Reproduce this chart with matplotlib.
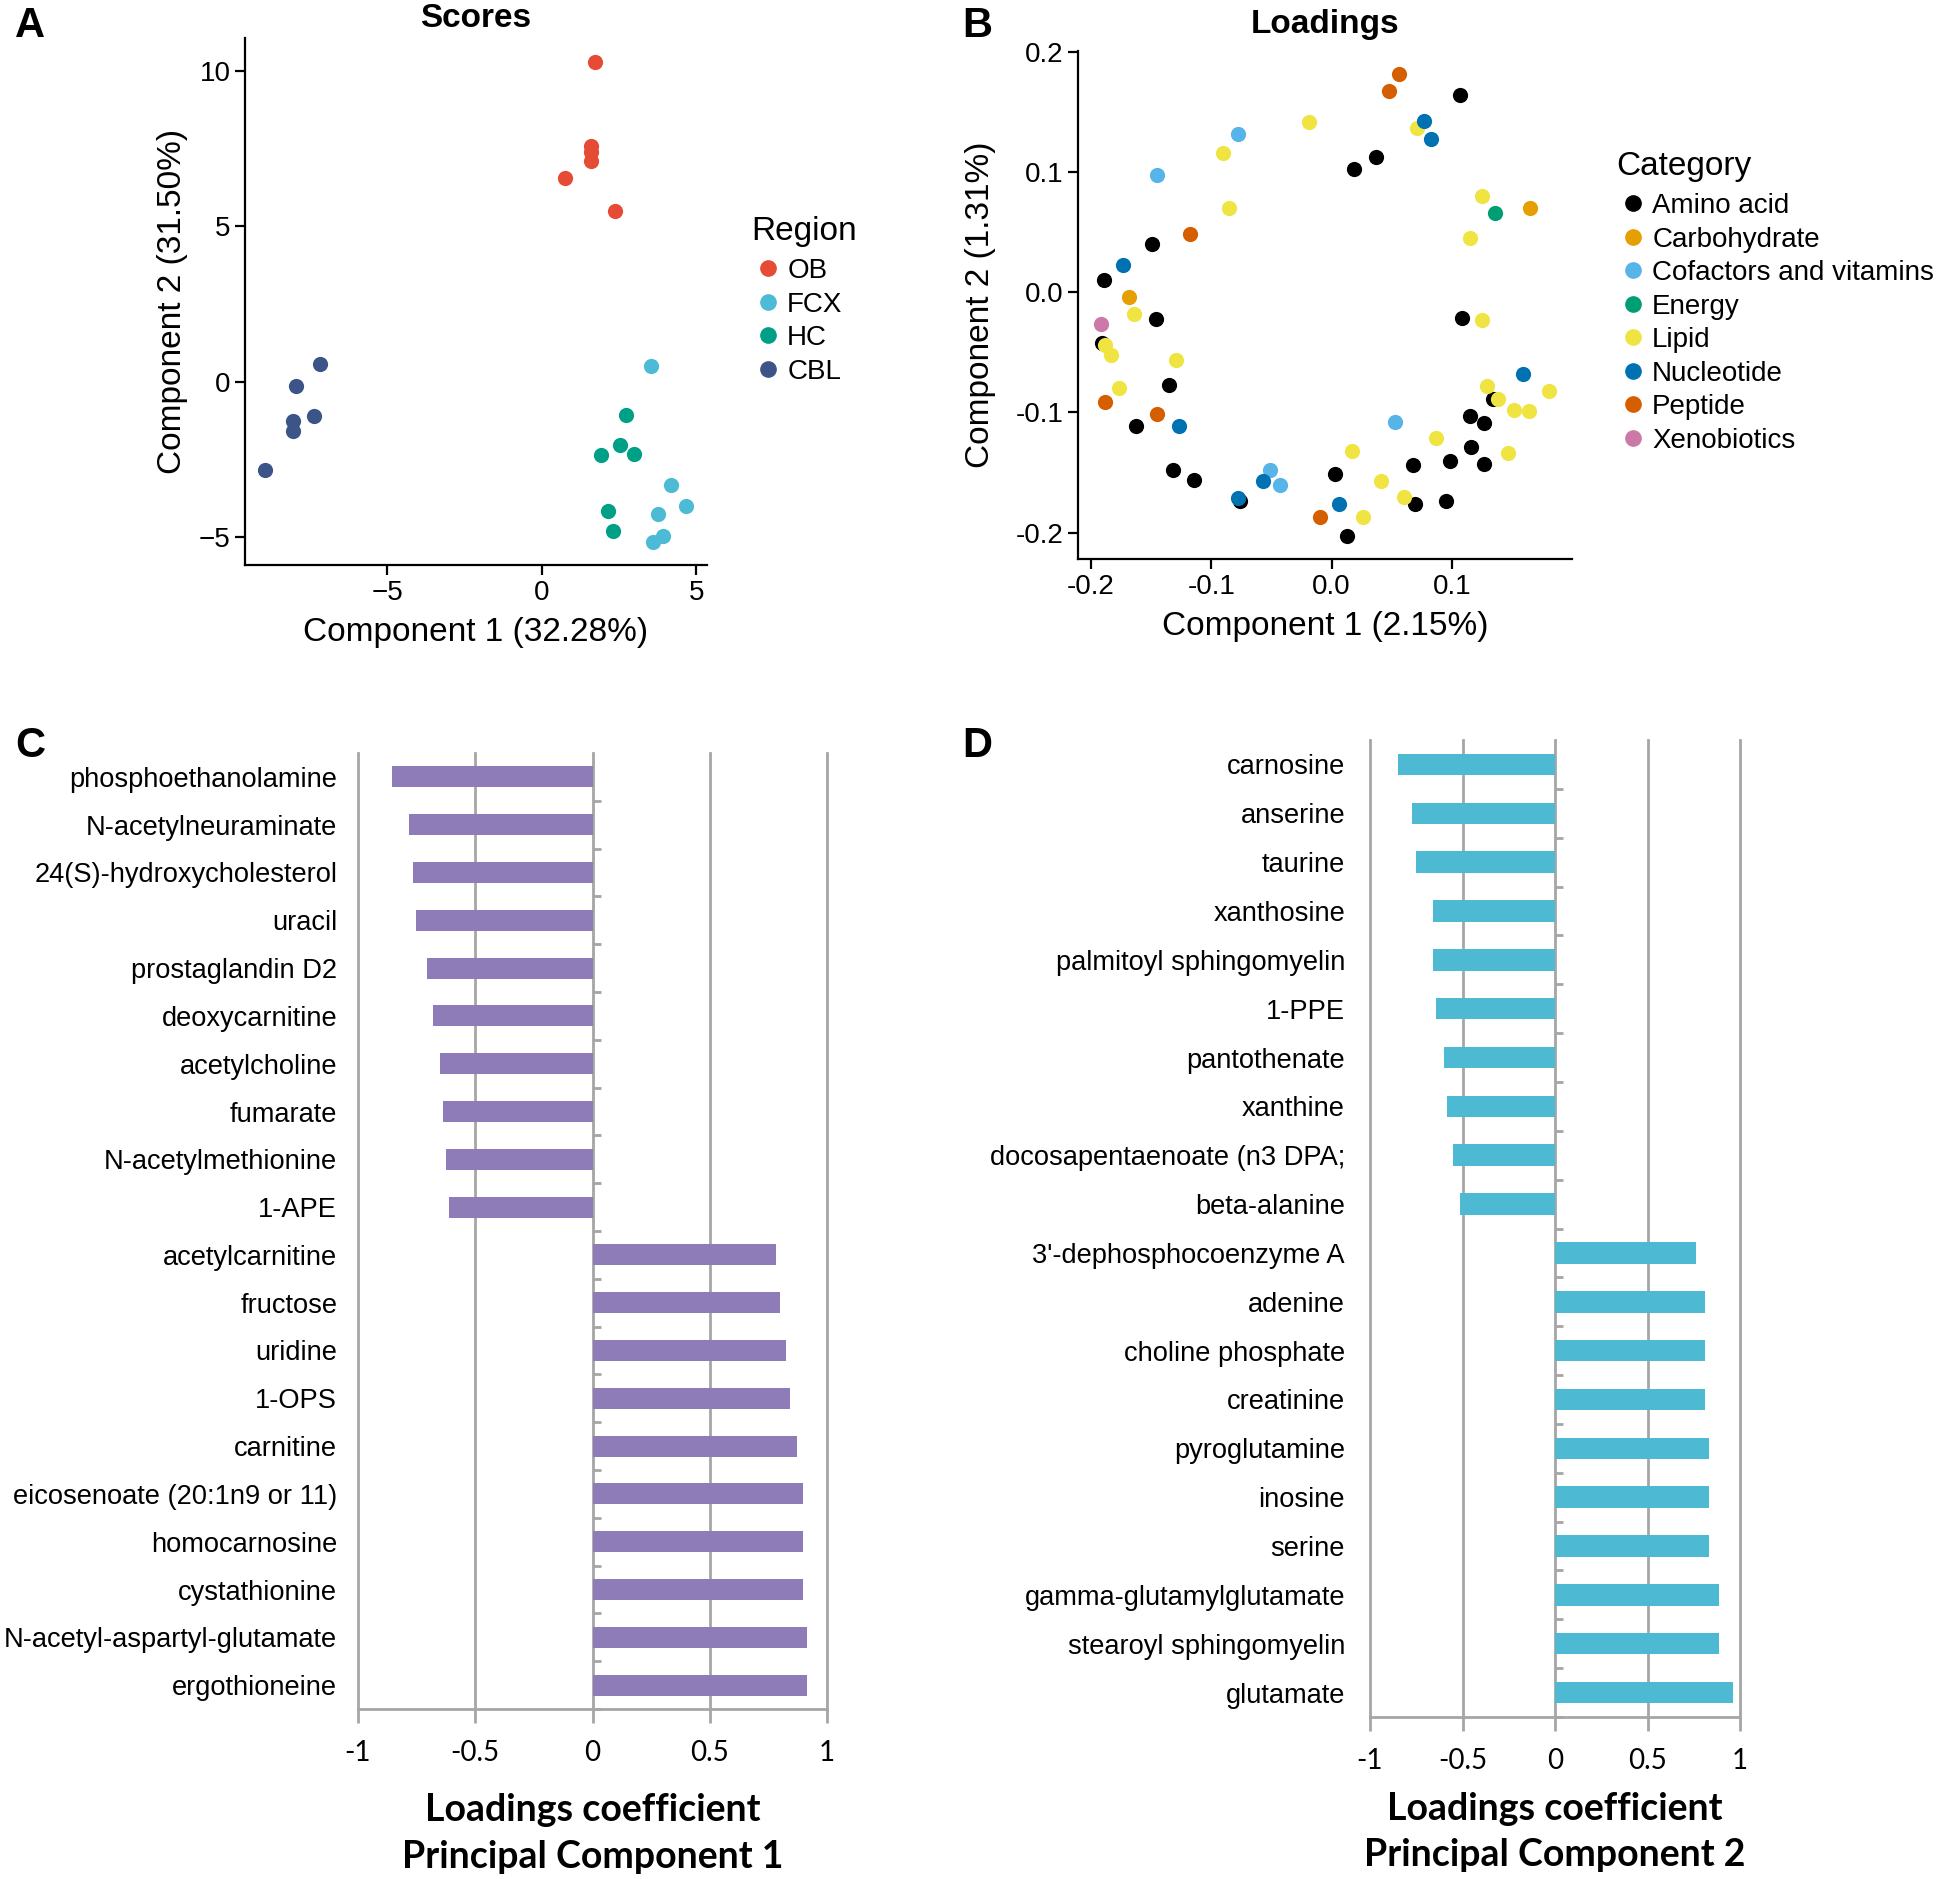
import numpy as np
import matplotlib
matplotlib.use('Agg')
import matplotlib.pyplot as plt
from matplotlib.lines import Line2D

plt.rcParams['font.family'] = ['Liberation Sans', 'DejaVu Sans']
plt.rcParams['axes.unicode_minus'] = True

# ---------------- data ----------------
# panel A: PCA scores per region
region_names = ['OB', 'FCX', 'HC', 'CBL']
region_colors = ['#E64B35', '#4DBBD5', '#00A087', '#3C5488']
ob_x = [1.73, 1.60, 1.60, 1.60, 0.74, 2.36]
ob_y = [10.27, 7.57, 7.37, 7.11, 6.56, 5.47]
fcx_x = [3.53, 4.18, 4.67, 3.77, 3.92, 3.59]
fcx_y = [0.49, -3.34, -4.01, -4.26, -4.96, -5.15]
hc_x = [2.73, 2.53, 1.93, 2.97, 2.14, 2.29]
hc_y = [-1.06, -2.03, -2.36, -2.32, -4.15, -4.82]
cbl_x = [-7.19, -7.97, -7.38, -8.07, -8.07, -8.96]
cbl_y = [0.56, -0.15, -1.12, -1.26, -1.58, -2.84]

# panel B: loadings per metabolite category
cat_names = ['Amino acid', 'Carbohydrate', 'Cofactors and vitamins', 'Energy',
             'Lipid', 'Nucleotide', 'Peptide', 'Xenobiotics']
cat_colors = ['#000000', '#E69F00', '#56B4E9', '#009E73',
              '#F0E442', '#0072B2', '#D55E00', '#CC79A7']
amino_x = [0.107, 0.019, 0.037, -0.149, -0.189, -0.146, -0.191, -0.135, -0.163, -0.132,
           -0.114, -0.076, 0.003, 0.013, 0.068, 0.069, 0.098, 0.095, 0.108, 0.115,
           0.127, 0.116, 0.127, 0.134]
amino_y = [0.164, 0.103, 0.113, 0.040, 0.010, -0.022, -0.042, -0.077, -0.111, -0.148,
           -0.156, -0.174, -0.151, -0.203, -0.144, -0.176, -0.140, -0.174, -0.021, -0.103,
           -0.109, -0.129, -0.143, -0.089]
carb_x = [-0.168, 0.165]
carb_y = [-0.004, 0.070]
cofac_x = [-0.078, -0.145, -0.051, -0.043, 0.053]
cofac_y = [0.132, 0.098, -0.148, -0.160, -0.108]
energy_x = [0.136]
energy_y = [0.066]
lipid_x = [-0.019, -0.090, -0.085, 0.071, 0.125, 0.115, 0.125, -0.164, -0.188, -0.183,
           -0.129, -0.177, 0.129, 0.138, 0.152, 0.164, 0.181, 0.147, 0.087, 0.017,
           0.041, 0.060, 0.026]
lipid_y = [0.142, 0.116, 0.070, 0.137, 0.080, 0.045, -0.023, -0.018, -0.044, -0.052,
           -0.056, -0.080, -0.078, -0.089, -0.098, -0.099, -0.082, -0.134, -0.121, -0.132,
           -0.157, -0.170, -0.187]
nucl_x = [0.077, 0.083, -0.173, -0.127, -0.078, -0.057, 0.006, 0.159]
nucl_y = [0.143, 0.128, 0.023, -0.111, -0.171, -0.157, -0.176, -0.068]
pept_x = [0.056, 0.048, -0.118, -0.188, -0.145, -0.010]
pept_y = [0.182, 0.168, 0.049, -0.091, -0.101, -0.187]
xeno_x = [-0.192]
xeno_y = [-0.026]

# panel C: top loadings on PC1
pc1_names = ['phosphoethanolamine', 'N-acetylneuraminate', '24(S)-hydroxycholesterol', 'uracil',
             'prostaglandin D2', 'deoxycarnitine', 'acetylcholine', 'fumarate',
             'N-acetylmethionine', '1-APE', 'acetylcarnitine', 'fructose', 'uridine', '1-OPS',
             'carnitine', 'eicosenoate (20:1n9 or 11)', 'homocarnosine', 'cystathionine',
             'N-acetyl-aspartyl-glutamate', 'ergothioneine']
pc1_vals = [-0.855, -0.783, -0.767, -0.753, -0.707, -0.679, -0.651, -0.637, -0.624, -0.610,
            0.783, 0.799, 0.827, 0.841, 0.871, 0.898, 0.898, 0.898, 0.915, 0.915]

# panel D: top loadings on PC2
pc2_names = ['carnosine', 'anserine', 'taurine', 'xanthosine', 'palmitoyl sphingomyelin',
             '1-PPE', 'pantothenate', 'xanthine', 'docosapentaenoate (n3 DPA;', 'beta-alanine',
             "3'-dephosphocoenzyme A", 'adenine', 'choline phosphate', 'creatinine',
             'pyroglutamine', 'inosine', 'serine', 'gamma-glutamylglutamate',
             'stearoyl sphingomyelin', 'glutamate']
pc2_vals = [-0.848, -0.773, -0.754, -0.660, -0.660, -0.641, -0.602, -0.586, -0.550, -0.511,
            0.760, 0.812, 0.812, 0.812, 0.831, 0.831, 0.831, 0.887, 0.887, 0.964]

bar_ticks = [-1, -0.5, 0, 0.5, 1]
bar_tick_labels = ['-1', '-0.5', '0', '0.5', '1']

# ---------------- figure ----------------
W, H = 1946, 1879
fig = plt.figure(figsize=(W / 100, H / 100), dpi=100)


def add_ax(x0, y0, x1, y1):
    return fig.add_axes([x0 / W, 1 - y1 / H, (x1 - x0) / W, (y1 - y0) / H])


def classic(ax):
    for s in ['top', 'right']:
        ax.spines[s].set_visible(False)
    for s in ['left', 'bottom']:
        ax.spines[s].set_linewidth(1.6)
    ax.tick_params(labelsize=20, width=1.6, length=7, colors='black')


# A: scores
axA = add_ax(245, 38, 707, 565)
score_x = [ob_x, fcx_x, hc_x, cbl_x]
score_y = [ob_y, fcx_y, hc_y, cbl_y]
for xs, ys, c, n in zip(score_x, score_y, region_colors, region_names):
    axA.scatter(xs, ys, s=120, color=c, label=n, linewidths=0)
axA.set_xlim(-9.61, 5.35)
axA.set_ylim(-5.9, 11.05)
axA.set_xticks([-5, 0, 5])
axA.set_yticks([-5, 0, 5, 10])
classic(axA)
axA.set_xlabel('Component 1 (32.28%)', fontsize=24, labelpad=8)
axA.set_ylabel('Component 2 (31.50%)', fontsize=24, labelpad=8)
axA.set_title('Scores', fontsize=24, fontweight='bold', pad=8)
hA = [Line2D([], [], marker='o', ls='', color=c, markersize=11) for c in region_colors]
legA = axA.legend(hA, region_names, title='Region', loc='upper left',
                  bbox_to_anchor=(740 / W, 1 - 205 / H), bbox_transform=fig.transFigure,
                  frameon=False, fontsize=20, title_fontsize=24, handletextpad=0.1,
                  labelspacing=0.27, borderaxespad=0, handlelength=1.2)
legA._legend_box.align = 'left'
legA._legend_box.sep = 8

# B: loadings
axB = add_ax(1078, 51, 1572, 559)
load_x = [amino_x, carb_x, cofac_x, energy_x, lipid_x, nucl_x, pept_x, xeno_x]
load_y = [amino_y, carb_y, cofac_y, energy_y, lipid_y, nucl_y, pept_y, xeno_y]
for xs, ys, c, n in zip(load_x, load_y, cat_colors, cat_names):
    axB.scatter(xs, ys, s=120, color=c, label=n, linewidths=0)
axB.set_xlim(-0.2108, 0.1998)
axB.set_ylim(-0.222, 0.201)
axB.set_xticks([-0.2, -0.1, 0.0, 0.1])
axB.set_yticks([-0.2, -0.1, 0.0, 0.1, 0.2])
axB.xaxis.set_major_formatter(matplotlib.ticker.FormatStrFormatter('%.1f'))
axB.yaxis.set_major_formatter(matplotlib.ticker.FormatStrFormatter('%.1f'))
classic(axB)
axB.set_xlabel('Component 1 (2.15%)', fontsize=24, labelpad=8)
axB.set_ylabel('Component 2 (1.31%)', fontsize=24, labelpad=14)
axB.set_title('Loadings', fontsize=24, fontweight='bold', pad=13)
hB = [Line2D([], [], marker='o', ls='', color=c, markersize=11) for c in cat_colors]
legB = axB.legend(hB, cat_names, title='Category', loc='upper left',
                  bbox_to_anchor=(1605 / W, 1 - 140 / H), bbox_transform=fig.transFigure,
                  frameon=False, fontsize=20, title_fontsize=24, handletextpad=0.1,
                  labelspacing=0.27, borderaxespad=0, handlelength=1.2)
legB._legend_box.align = 'left'
legB._legend_box.sep = 8


# C / D: loadings coefficient bars
def bar_panel(ax, names, vals, color, label, lpad, ypad):
    pos = np.arange(len(names))
    ax.barh(pos, vals, height=0.44, color=color, zorder=3)
    ax.set_xlim(-1, 1)
    ax.set_ylim(len(names) - 0.5, -0.5)
    ax.set_yticks(pos)
    ax.set_yticklabels(names, fontsize=19.6)
    ax.tick_params(axis='y', length=0, pad=ypad)
    ax.set_xticks(bar_ticks)
    ax.set_xticklabels(bar_tick_labels, family=['Lato', 'DejaVu Sans'], fontsize=20)
    ax.tick_params(axis='x', length=10, width=2, color='#A6A6A6', pad=12)
    for s in ['top', 'right', 'left']:
        ax.spines[s].set_visible(False)
    ax.spines['bottom'].set_color('#A6A6A6')
    ax.spines['bottom'].set_linewidth(2)
    ax.grid(axis='x', color='#A6A6A6', linewidth=2, zorder=0)
    for gl in ax.get_xgridlines():
        gl.set_clip_on(False)
    # zero axis with category separators
    sec = ax.secondary_yaxis(0.5)
    sec.set_yticks(np.arange(len(names)) + 0.5)
    sec.set_yticklabels([])
    sec.tick_params(length=6, width=2, color='#A6A6A6', direction='out')
    sec.spines['left'].set_color('#A6A6A6')
    sec.spines['left'].set_linewidth(2)
    ax.set_xlabel(label, family=['Lato', 'DejaVu Sans'], fontweight='bold', fontsize=27,
                  linespacing=1.45, labelpad=lpad)


axC = add_ax(358, 753, 827, 1709)
bar_panel(axC, pc1_names, pc1_vals, '#8E7CB8', 'Loadings coefficient\nPrincipal Component 1', 20, 15)
axD = add_ax(1370, 740, 1740, 1717)
bar_panel(axD, pc2_names, pc2_vals, '#4DB9D3', 'Loadings coefficient\nPrincipal Component 2', 13, 18)

# panel letters
for letter, x, y in [('A', 30, 26), ('B', 977, 26), ('C', 30, 746), ('D', 977, 746)]:
    fig.text(x / W, 1 - y / H, letter, fontsize=30, fontweight='bold', ha='center', va='center')

fig.savefig('out.png', dpi=100)
